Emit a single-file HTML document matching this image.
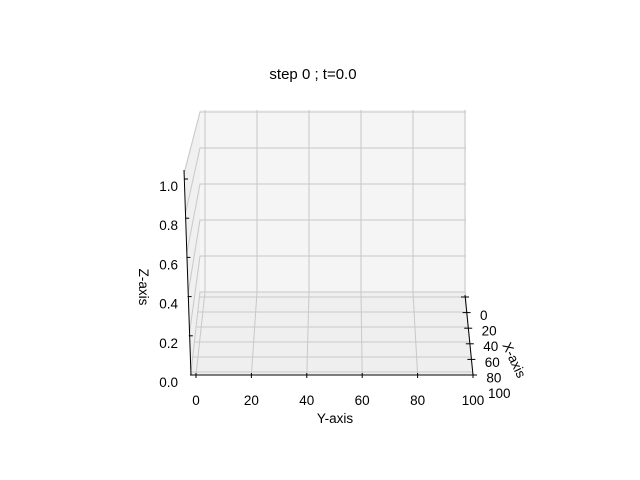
<!DOCTYPE html>
<html><head><meta charset="utf-8"><style>
body{margin:0;background:#fff}
svg{display:block;font-family:"Liberation Sans","DejaVu Sans",sans-serif}
</style></head><body>
<svg id="chart" width="640" height="480" viewBox="0 0 640 480">
<rect width="640" height="480" fill="#fff"/>
<text x="313" y="79" font-size="15" text-anchor="middle">step 0 ; t=0.0</text>
<g id="g"></g>
</svg>
<script>
const yTicks=[0,20,40,60,80,100];
const xTicks=[0,20,40,60,80,100];
const zTicks=[0.0,0.2,0.4,0.6,0.8,1.0];
const NS="http://www.w3.org/2000/svg";
const g=document.getElementById('g');
function el(t,a,p){const e=document.createElementNS(NS,t);for(const k in a)e.setAttribute(k,a[k]);(p||g).appendChild(e);return e;}
const backTop=110, backBot=292, backL=200, backR=466;
const frontY=375, frontL=190, frontR=473;
const lerp=(a,b,t)=>a+(b-a)*t;
let p;
p=el('polygon',{points:`${backL},${backTop} ${backR},${backTop} ${backR},${backBot} ${backL},${backBot}`,fill:'#f5f5f5'});

p=el('polygon',{points:`${backL},${backBot} ${backR},${backBot} ${frontR},${frontY} ${frontL},${frontY}`,fill:'#efefef'});

p=el('polygon',{points:`${backL},${backTop} 184,170 ${frontL},${frontY} ${backL},${backBot}`,fill:'#f0f0f0'});

const gc='#c8c8c8';
yTicks.forEach(v=>{
 const t=v/100;
 const bx=lerp(backL+5,backR-1,t), fx=lerp(196,473,t);
 const l=el('polyline',{points:`${bx},${backTop} ${bx},${backBot} ${fx},${frontY}`,fill:'none',stroke:gc,'stroke-width':1});
 
});
xTicks.forEach(v=>{
 const t=v/100;
 const y=lerp(297,372,t);
 const f=(y-backBot)/(frontY-backBot);
 const l=el('line',{x1:lerp(backL,frontL,f),y1:y,x2:lerp(backR,frontR,f),y2:y,stroke:gc,'stroke-width':1});
 
});
zTicks.forEach(v=>{
 const yBack=lerp(292,112,v);
 const ySide=lerp(372,174,v);
 const l=el('polyline',{points:`${lerp(191,184,v)},${ySide} ${backL},${yBack} ${backR},${yBack}`,fill:'none',stroke:gc,'stroke-width':1});
 
});
let a;
a=el('line',{x1:184,y1:170,x2:191,y2:375,stroke:'#000','stroke-width':1});
a=el('line',{x1:190,y1:375,x2:473,y2:375,stroke:'#000','stroke-width':1});
a=el('line',{x1:465,y1:295,x2:473,y2:375,stroke:'#000','stroke-width':1});
yTicks.forEach(v=>{
 const x=lerp(196,473,v/100);
 el('line',{x1:x,y1:373,x2:x,y2:378,stroke:'#000'});
 const tx=el('text',{x:x,y:405,'font-size':13.5,'text-anchor':'middle'});tx.textContent=v;
 
});
xTicks.forEach(v=>{
 const t=v/100;const y=lerp(297,375,t);const x=lerp(465,473,t);
 el('line',{x1:x-4,y1:y,x2:x+4,y2:y,stroke:'#000'});
 const tx=el('text',{x:lerp(480,488,t),y:lerp(320,398,t),'font-size':13.5});tx.textContent=v;
 
});
zTicks.forEach(v=>{
 const y=lerp(375,179,v);const x=lerp(191,185,v);
 el('line',{x1:x-1,y1:y,x2:x+3,y2:y,stroke:'#000'});
 const tx=el('text',{x:178,y:lerp(387,191,v),'font-size':13.5,'text-anchor':'end'});tx.textContent=v.toFixed(1);
 
});
let t;
t=el('text',{x:335,y:423,'font-size':13.5,'text-anchor':'middle'});t.textContent='Y-axis';
t=el('text',{x:0,y:0,'font-size':13.5,'text-anchor':'middle',transform:'translate(139,287) rotate(90)'});t.textContent='Z-axis';
t=el('text',{x:0,y:0,'font-size':13.5,'text-anchor':'middle',transform:'translate(510,362) rotate(65)'});t.textContent='X-axis';
</script>
</body></html>
